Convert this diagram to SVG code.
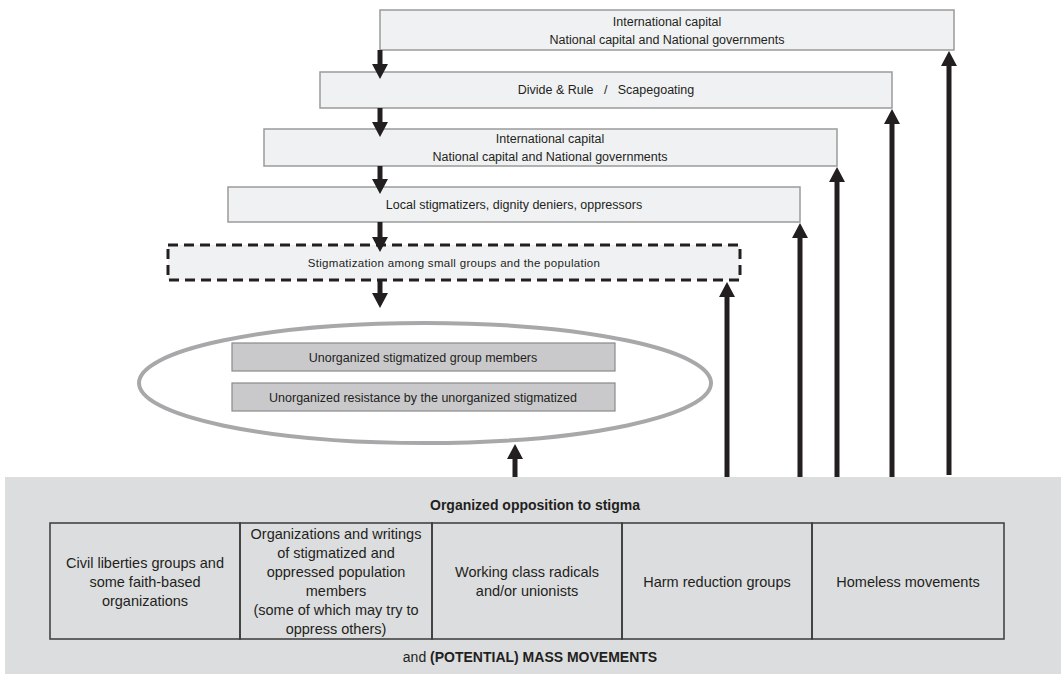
<svg xmlns="http://www.w3.org/2000/svg" width="1064" height="674" viewBox="0 0 1064 674">
<style>
text{font-family:"Liberation Sans",Arial,sans-serif;fill:#231f20;text-anchor:middle}
.t12{font-size:12.5px}
.t10{font-size:11.5px;letter-spacing:0.3px}
.t13{font-size:14.5px}
.b{font-weight:bold;font-size:14px}
.box{fill:#f0f1f3;stroke:#9a9a9a;stroke-width:1.5}
.dbox{fill:#f0f1f3;stroke:#231f20;stroke-width:3;stroke-dasharray:10 6}
.ibox{fill:#c9c9cb;stroke:#8a8a8a;stroke-width:1.2}
.cell{fill:none;stroke:#3a3a3a;stroke-width:1.5}
.arr{stroke:#231f20;stroke-width:5;fill:none;marker-end:url(#ah)}
</style>
<defs>
<marker id="ah" viewBox="0 0 15 16" refX="5" refY="8" markerWidth="15" markerHeight="16" markerUnits="userSpaceOnUse" orient="auto">
<path d="M0,0 L15,8 L0,16 z" fill="#231f20"/>
</marker>
</defs>
<rect width="1064" height="674" fill="#ffffff"/>

<g id="panel">
<rect x="5" y="477" width="1056" height="197" fill="#dcdddf"/>
<text class="b" x="535" y="510">Organized opposition to stigma</text>
<text x="530" y="662" style="font-size:14px">and <tspan font-weight="bold">(POTENTIAL) MASS MOVEMENTS</tspan></text>
</g>

<g id="cell1">
<rect class="cell" x="50" y="523" width="190" height="116"/>
<text class="t13" x="145" y="568">Civil liberties groups and</text>
<text class="t13" x="145" y="587">some faith-based</text>
<text class="t13" x="145" y="606">organizations</text>
</g>
<g id="cell2">
<rect class="cell" x="240" y="523" width="192" height="116"/>
<text class="t13" x="336" y="539">Organizations and writings</text>
<text class="t13" x="336" y="558">of stigmatized and</text>
<text class="t13" x="336" y="577">oppressed population</text>
<text class="t13" x="336" y="596">members</text>
<text class="t13" x="336" y="615">(some of which may try to</text>
<text class="t13" x="336" y="634">oppress others)</text>
</g>
<g id="cell3">
<rect class="cell" x="432" y="523" width="190" height="116"/>
<text class="t13" x="527" y="577">Working class radicals</text>
<text class="t13" x="527" y="596">and/or unionists</text>
</g>
<g id="cell4">
<rect class="cell" x="622" y="523" width="190" height="116"/>
<text class="t13" x="717" y="587">Harm reduction groups</text>
</g>
<g id="cell5">
<rect class="cell" x="812" y="523" width="192" height="116"/>
<text class="t13" x="908" y="587">Homeless movements</text>
</g>

<g id="box1">
<rect class="box" x="380" y="10" width="574" height="40"/>
<text class="t12" x="667" y="26">International capital</text>
<text class="t12" x="667" y="44">National capital and National governments</text>
</g>
<g id="box2">
<rect class="box" x="320" y="72" width="572" height="36"/>
<text class="t12" x="606" y="94" xml:space="preserve">Divide &amp; Rule   /   Scapegoating</text>
</g>
<g id="box3">
<rect class="box" x="264" y="129" width="573" height="37"/>
<text class="t12" x="550" y="143">International capital</text>
<text class="t12" x="550" y="161">National capital and National governments</text>
</g>
<g id="box4">
<rect class="box" x="228" y="187" width="572" height="35"/>
<text class="t12" x="514" y="209">Local stigmatizers, dignity deniers, oppressors</text>
</g>
<g id="box5">
<rect class="dbox" x="168" y="245" width="572" height="35"/>
<text class="t10" x="454" y="267">Stigmatization among small groups and the population</text>
</g>

<g id="unorganized">
<ellipse cx="425" cy="383" rx="286" ry="60" fill="none" stroke="#a8a8aa" stroke-width="4"/>
<rect class="ibox" x="232" y="343" width="383" height="28"/>
<text x="423" y="361.5" style="font-size:12.5px">Unorganized stigmatized group members</text>
<rect class="ibox" x="232" y="383" width="383" height="28"/>
<text x="423" y="401.5" style="font-size:12.5px">Unorganized resistance by the unorganized stigmatized</text>
</g>

<g id="connectors">
<line class="arr" x1="380" y1="50" x2="380" y2="69"/>
<line class="arr" x1="380" y1="108" x2="380" y2="127"/>
<line class="arr" x1="380" y1="166" x2="380" y2="184"/>
<line class="arr" x1="380" y1="222" x2="380" y2="242"/>
<line class="arr" x1="380" y1="281" x2="380" y2="298"/>
<line class="arr" x1="515" y1="477" x2="515" y2="454"/>
<line class="arr" x1="727" y1="477" x2="727" y2="292"/>
<line class="arr" x1="800" y1="477" x2="800" y2="233"/>
<line class="arr" x1="837" y1="477" x2="837" y2="177"/>
<line class="arr" x1="892" y1="477" x2="892" y2="119"/>
<line class="arr" x1="949" y1="475" x2="949" y2="61"/>
</g>
</svg>
